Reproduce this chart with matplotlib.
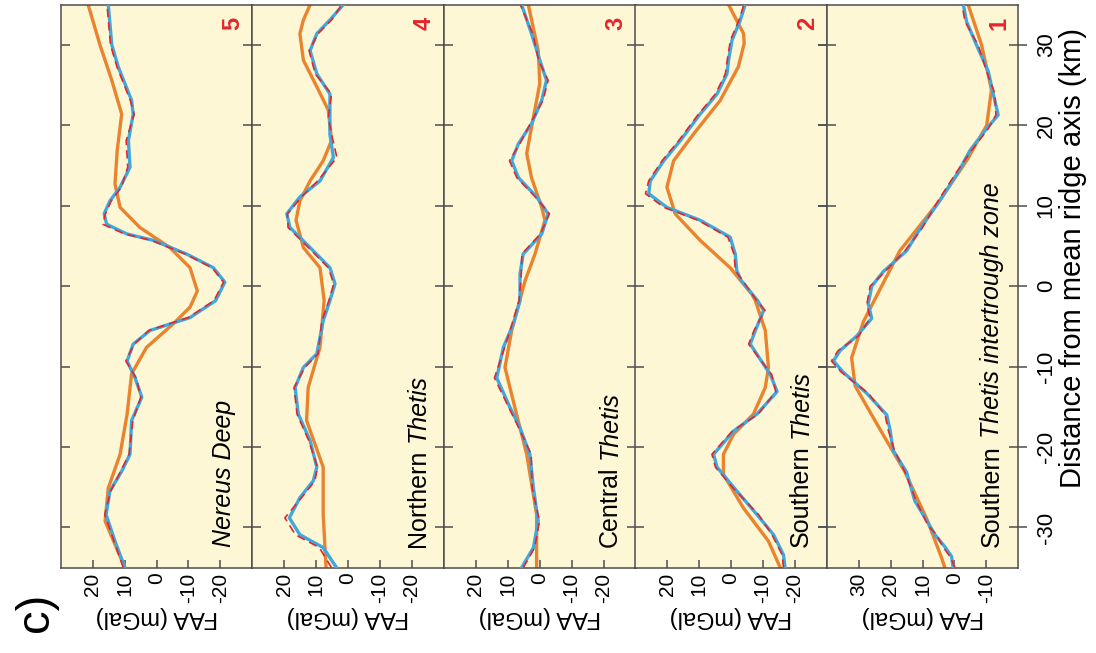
import numpy as np
import matplotlib
matplotlib.use("Agg")
import matplotlib.pyplot as plt
from matplotlib.transforms import ScaledTranslation

plt.rcParams['font.family'] = ['Liberation Sans', 'DejaVu Sans']
plt.rcParams['axes.unicode_minus'] = False

# panels from left to right (as they appear in the rotated figure)
panel_numbers = ["5", "4", "3", "2", "1"]
label_upright = ["", "Northern", "Central", "Southern", "Southern"]
label_italic = ["Nereus Deep", "Thetis", "Thetis", "Thetis", "Thetis intertrough zone"]

faa_ticks = [[20, 10, 0, -10, -20]] * 4 + [[30, 20, 10, 0, -10]]
faa_limits = [(30, -30)] * 4 + [(40, -20)]
dist_ticks = [-30, -20, -10, 0, 10, 20, 30]

# ---- panel 5 : Nereus Deep
nereus_d = [-35, -31.7, -28.4, -25.5, -23.0, -20.9, -16.7, -13.8, -11.4, -9.3, -7.2, -5.5,
            -3.9, -1.8, 0.5, 2.3, 4.0, 5.7, 6.5, 7.7, 9.0, 10.6, 12.3, 14.8, 18.1, 21.4,
            23.1, 27.3, 30.0, 35.0]
nereus_blue = [9.9, 13.0, 15.8, 14.6, 10.9, 8.3, 7.8, 4.6, 6.7, 9.2, 7.3, 2.0,
               -10.5, -18.5, -21.4, -17.8, -9.4, 1.0, 9.3, 15.6, 16.4, 14.6, 11.4, 8.3, 8.8, 7.3,
               7.8, 12.0, 14.0, 15.1]
nereus_red = [10.4, 13.3, 16.2, 14.4, 11.2, 8.6, 7.4, 4.9, 6.4, 9.6, 7.0, 2.4,
              -10.0, -18.0, -21.0, -17.4, -9.0, 1.6, 10.0, 16.8, 16.0, 14.2, 11.0, 9.0, 9.5, 7.0,
              8.2, 12.4, 14.4, 15.5]
nereus_d_or = [-35, -29.2, -25.1, -20.9, -15.9, -10.9, -7.6, -4.7, -2.6, -0.6, 2.3, 4.8,
               7.3, 9.8, 12.7, 16.9, 21.4, 25.6, 30.0, 35.0]
nereus_orange = [9.9, 16.1, 15.1, 11.4, 9.2, 7.8, 3.1, -5.2, -10.5, -12.8, -10.5, -4.2,
                 5.2, 11.4, 13.0, 12.3, 10.9, 14.0, 17.7, 21.4]

# ---- panel 4 : Northern Thetis
north_d = [-35, -32.5, -30.9, -28.8, -26.3, -24.2, -22.5, -19.2, -15.9, -12.6, -10.1, -8.4,
           -4.3, -1.8, 0.3, 2.3, 4.8, 7.3, 9.0, 11.1, 13.1, 16.0, 18.9, 21.0, 23.9, 26.4,
           29.3, 31.4, 33.1, 35.0]
north_blue = [3.6, 7.8, 15.1, 18.4, 15.1, 10.9, 9.8, 11.9, 15.6, 16.6, 14.0, 9.8,
              7.8, 5.7, 4.1, 5.7, 11.9, 18.2, 19.2, 15.1, 8.8, 4.6, 5.7, 5.7, 5.7, 9.8,
              11.9, 9.8, 5.7, 1.5]
north_red = [5.2, 9.0, 16.5, 19.8, 14.6, 10.4, 9.6, 12.3, 16.0, 16.9, 13.6, 9.4,
             8.2, 6.0, 4.5, 6.2, 12.4, 18.8, 19.0, 14.6, 9.5, 3.5, 5.2, 6.2, 5.2, 10.3,
             12.2, 9.4, 5.2, 2.0]
north_d_or = [-35, -28.4, -22.5, -16.7, -12.6, -7.6, -1.8, 2.3, 4.8, 8.2, 10.6, 13.1,
              15.6, 18.1, 21.9, 24.8, 28.1, 31.4, 33.1, 35.0]
north_orange = [6.9, 7.8, 7.8, 13.0, 12.5, 8.8, 7.5, 8.8, 14.0, 16.3, 15.1, 11.9,
                7.8, 5.2, 6.2, 9.8, 14.0, 15.1, 14.0, 11.9]

# ---- panel 3 : Central Thetis
central_d = [-35, -32.5, -29.2, -25.1, -20.9, -17.6, -15.1, -11.4, -7.6, -4.7, -1.8, 1.5,
             4.0, 6.5, 9.0, 11.1, 13.5, 15.6, 17.7, 20.2, 23.1, 25.6, 28.1, 31.4, 35.0]
central_blue = [5.7, 2.0, 0.5, 2.0, 3.1, 6.2, 9.3, 13.5, 11.4, 8.3, 6.2, 6.2,
                5.2, -0.6, -2.6, 1.0, 6.7, 8.8, 6.7, 2.6, -0.6, -2.1, 0.0, 2.6, 5.7]
central_red = [5.2, 1.6, 0.1, 2.4, 2.7, 6.6, 9.7, 14.2, 11.0, 8.7, 6.5, 5.8,
               5.6, -0.2, -3.0, 1.4, 7.2, 9.5, 6.3, 3.0, -1.0, -2.6, 0.4, 2.2, 6.1]
central_d_or = [-35, -28.4, -20.9, -15.1, -10.1, -5.5, 0.7, 4.0, 8.2, 9.8, 13.5, 16.5,
                21.0, 25.2, 29.3, 35.0]
central_orange = [1.0, 1.0, 4.1, 7.8, 10.9, 8.8, 4.6, 1.5, -1.6, -0.6, 2.6, 4.1,
                  2.0, 0.0, 0.5, 3.6]

# ---- panel 2 : Southern Thetis
south_d = [-35, -33.4, -30.9, -28.4, -25.0, -22.5, -20.9, -18.0, -15.9, -13.1, -11.0, -7.2,
           -5.5, -3.0, -1.8, 0.7, 1.9, 4.0, 6.1, 8.2, 9.8, 11.5, 13.1, 15.6, 18.1, 21.4,
           23.9, 26.4, 28.1, 30.6, 33.1, 35.0]
south_blue = [-16.9, -16.4, -13.3, -8.1, -0.8, 4.4, 5.5, -0.8, -8.1, -14.4, -12.3, -6.0,
              -7.6, -10.2, -8.3, -3.2, -1.8, -1.3, 0.3, 9.7, 20.1, 25.8, 25.3, 21.1, 15.9, 9.7,
              4.4, 1.3, 0.8, -0.3, -2.9, -4.4]
south_red = [-16.4, -16.0, -12.8, -8.6, -0.4, 4.9, 6.0, -0.4, -8.5, -14.0, -12.7, -5.5,
             -7.2, -10.6, -8.0, -3.6, -1.4, -0.9, 1.0, 10.3, 21.0, 26.8, 25.8, 21.6, 16.4, 10.2,
             4.9, 1.8, 1.2, 0.2, -2.5, -4.0]
south_d_or = [-35, -31.7, -27.6, -23.4, -20.9, -18.4, -15.9, -12.6, -10.1, -5.5, -1.8, -1.0,
              2.3, 5.7, 9.0, 12.3, 15.6, 18.9, 23.1, 27.3, 30.2, 31.4, 35.0]
south_orange = [-15.4, -11.7, -3.9, 2.4, 2.4, -0.8, -7.0, -10.7, -11.7, -10.7, -7.6, -6.5,
                0.3, 9.7, 17.5, 20.1, 18.0, 11.8, 3.4, -2.3, -4.1, -3.9, 0.8]

# ---- panel 1 : Southern Thetis intertrough zone
inter_d = [-35, -33.6, -32.4, -30.9, -29.8, -26.7, -23.1, -20.4, -17.8, -16.0, -13.3, -10.7,
           -9.3, -8.0, -6.2, -4.0, -2.2, 0.0, 1.8, 4.4, 7.1, 10.7, 14.2, 16.9, 19.6, 21.3,
           24.0, 26.7, 30.0, 32.9, 35.0]
inter_blue = [0.4, 0.9, 3.0, 6.1, 7.7, 12.4, 15.0, 19.2, 20.2, 21.2, 27.5, 34.8,
              37.9, 35.8, 30.6, 25.9, 27.0, 25.9, 22.3, 15.0, 10.8, 4.5, -1.2, -4.9, -10.1, -13.7,
              -12.1, -10.6, -6.9, -3.8, -2.8]
inter_red = [-0.2, 1.4, 3.6, 5.6, 8.2, 12.0, 15.5, 18.8, 20.8, 21.7, 27.0, 35.4,
             38.5, 36.4, 30.1, 26.4, 27.4, 26.4, 21.8, 15.5, 10.3, 5.0, -0.7, -5.4, -10.6, -13.0,
             -12.6, -10.1, -7.4, -3.3, -2.4]
inter_d_or = [-35, -33.8, -28.9, -23.1, -17.8, -12.4, -8.9, -4.4, 0.0, 4.4, 10.7, 15.6,
              20.0, 24.4, 30.0, 35.0]
inter_orange = [3.0, 4.0, 8.7, 15.5, 23.3, 31.1, 32.2, 28.5, 22.8, 17.1, 4.5, -3.8,
                -10.1, -11.6, -8.5, -4.3]

panel_d = [nereus_d, north_d, central_d, south_d, inter_d]
panel_blue = [nereus_blue, north_blue, central_blue, south_blue, inter_blue]
panel_red = [nereus_red, north_red, central_red, south_red, inter_red]
panel_d_or = [nereus_d_or, north_d_or, central_d_or, south_d_or, inter_d_or]
panel_orange = [nereus_orange, north_orange, central_orange, south_orange, inter_orange]

# colours
bg_col = "#fdf7d6"
orange_col = "#e9832d"
blue_col = "#3fa9de"
red_col = "#e3262c"
axis_col = "#4d4d4d"

W, H = 1096, 653
fig = plt.figure(figsize=(W / 100, H / 100), dpi=100)

lefts = [60.7, 252.3, 444.0, 635.3, 826.7]
pw = 191.6
top_px, bot_px = 4.7, 567.7

for i in range(5):
    ax = fig.add_axes([lefts[i] / W, 1 - bot_px / H, pw / W, (bot_px - top_px) / H])
    ax.set_facecolor(bg_col)

    ax.plot(panel_orange[i], panel_d_or[i], color=orange_col, lw=2.4, zorder=2,
            solid_joinstyle="round")
    ax.plot(panel_blue[i], panel_d[i], color=blue_col, lw=2.4, zorder=3,
            solid_joinstyle="round")
    ax.plot(panel_red[i], panel_d[i], color=red_col, lw=1.2, ls=(0, (5, 3)), zorder=4)

    ax.set_xlim(*faa_limits[i])
    ax.set_ylim(-35, 35)

    for s in ax.spines.values():
        s.set_color(axis_col)
        s.set_linewidth(1.1)

    ax.set_xticks(faa_ticks[i])
    ax.set_xticklabels([str(v) for v in faa_ticks[i]], rotation=90, fontsize=15)
    ax.tick_params(axis="x", direction="in", length=5.8, width=1.1, color=axis_col,
                   pad=3.5, top=False)
    ax.set_xlabel("FAA (mGal)", rotation=180, fontsize=17, labelpad=2)

    ax.set_yticks(dist_ticks)
    if i < 4:
        ax.tick_params(axis="y", left=True, right=True, direction="in", length=6.5,
                       width=1.1, color=axis_col, labelleft=False, labelright=False)
    else:
        ax.tick_params(axis="y", left=True, right=True, direction="inout", length=13,
                       width=1.1, color=axis_col, labelleft=False, labelright=True,
                       labelrotation=90, labelsize=16, pad=6)
        ax.set_yticklabels([str(v) for v in dist_ticks])
        for lab in ax.get_yticklabels():
            lab.set_va("center")

    # panel number
    ax.text(0.897, 0.967, panel_numbers[i], transform=ax.transAxes, rotation=90,
            color=red_col, fontsize=17, fontweight="bold", ha="center", va="center")

    # panel name (upright word + italic rest)
    x0, y0 = 0.9, 0.037
    if label_upright[i]:
        t1 = ax.text(x0, y0, label_upright[i], transform=ax.transAxes, rotation=90,
                     rotation_mode="anchor", ha="left", va="baseline", fontsize=18)
        fig.canvas.draw()
        bb = t1.get_window_extent()
        shift = (bb.height + 7) / fig.dpi
        ax.text(x0, y0, label_italic[i], rotation=90, rotation_mode="anchor",
                ha="left", va="baseline", fontsize=18, style="italic",
                transform=ax.transAxes + ScaledTranslation(0, shift, fig.dpi_scale_trans))
    else:
        ax.text(x0 - 0.01, y0, label_italic[i], transform=ax.transAxes, rotation=90,
                rotation_mode="anchor", ha="left", va="baseline", fontsize=18,
                style="italic")

fig.text(1073 / W, 1 - 258 / H, "Distance from mean ridge axis (km)", rotation=90,
         fontsize=21, ha="center", va="center")
fig.text(36 / W, 1 - 612 / H, "c)", rotation=90, fontsize=34, ha="center", va="center")

fig.savefig("out.png", dpi=100, facecolor="white")
